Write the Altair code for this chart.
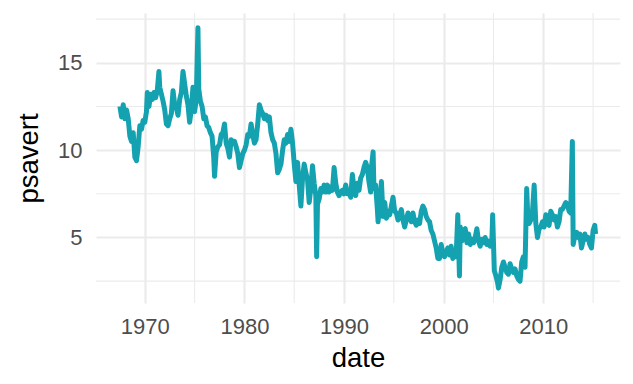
import altair as alt
import pandas as pd

months = [
"1967-07","1967-09","1967-11","1968-01","1968-03","1968-05","1968-07","1968-09","1968-11",
"1969-01","1969-03","1969-05","1969-07","1969-09","1969-11",
"1970-01","1970-03","1970-04","1970-06","1970-08","1970-10","1970-12",
"1971-02","1971-04","1971-06","1971-07","1971-09","1971-11",
"1972-01","1972-03","1972-05","1972-07","1972-09","1972-11",
"1973-01","1973-03","1973-05","1973-07","1973-09","1973-11",
"1974-01","1974-03","1974-05","1974-07","1974-09","1974-11",
"1975-01","1975-03","1975-05","1975-06","1975-08","1975-10","1975-12",
"1976-02","1976-04","1976-06","1976-08","1976-10","1976-12",
"1977-01","1977-03","1977-05","1977-07","1977-09","1977-11",
"1978-01","1978-03","1978-05","1978-07","1978-09","1978-11",
"1979-01","1979-03","1979-05","1979-07","1979-09","1979-11",
"1980-01","1980-03","1980-05","1980-07","1980-09","1980-11",
"1981-01","1981-03","1981-05","1981-07","1981-09","1981-11",
"1982-01","1982-03","1982-05","1982-07","1982-09","1982-11",
"1983-01","1983-03","1983-05","1983-07","1983-09","1983-11",
"1984-01","1984-03","1984-05","1984-07","1984-09","1984-11",
"1985-01","1985-03","1985-05","1985-07","1985-09","1985-11",
"1986-01","1986-03","1986-05","1986-07","1986-09","1986-11",
"1987-01","1987-03","1987-04","1987-05","1987-07","1987-09","1987-11",
"1988-01","1988-03","1988-05","1988-07","1988-09","1988-11",
"1989-01","1989-03","1989-05","1989-07","1989-09","1989-11",
"1990-01","1990-03","1990-05","1990-07","1990-09","1990-11",
"1991-01","1991-03","1991-05","1991-07","1991-09","1991-11",
"1992-01","1992-03","1992-05","1992-07","1992-09","1992-10","1992-12",
"1993-01","1993-03","1993-05","1993-06","1993-08","1993-10","1993-12",
"1994-02","1994-04","1994-06","1994-08","1994-10","1994-12",
"1995-02","1995-04","1995-06","1995-08","1995-10","1995-12",
"1996-02","1996-04","1996-06","1996-08","1996-10","1996-12",
"1997-02","1997-04","1997-06","1997-08","1997-10","1997-12",
"1998-02","1998-04","1998-06","1998-08","1998-10","1998-12",
"1999-02","1999-04","1999-06","1999-08","1999-10","1999-12",
"2000-02","2000-04","2000-06","2000-08","2000-10","2000-12",
"2001-02","2001-04","2001-06","2001-08","2001-09","2001-11",
"2002-01","2002-03","2002-05","2002-07","2002-09","2002-11",
"2003-01","2003-03","2003-05","2003-07","2003-09","2003-11",
"2004-01","2004-03","2004-05","2004-07","2004-09","2004-11","2004-12",
"2005-02","2005-04","2005-06","2005-07","2005-09","2005-11",
"2006-01","2006-03","2006-05","2006-07","2006-09","2006-11",
"2007-01","2007-03","2007-05","2007-07","2007-09","2007-11",
"2008-01","2008-03","2008-05","2008-06","2008-08","2008-10","2008-12",
"2009-02","2009-04","2009-06","2009-08","2009-10","2009-12",
"2010-02","2010-04","2010-06","2010-08","2010-10","2010-12",
"2011-02","2011-04","2011-06","2011-08","2011-10","2011-12",
"2012-02","2012-04","2012-06","2012-08","2012-10","2012-12",
"2013-01","2013-03","2013-05","2013-07","2013-09","2013-11",
"2014-01","2014-03","2014-05","2014-07","2014-09","2014-11",
"2015-01","2015-03","2015-04",
]

psavert = [
12.5,11.9,12.6,11.8,12.3,11.8,10.8,10.5,11.0,
9.6,9.4,10.2,11.4,11.2,11.7,
11.6,12.2,13.3,12.5,13.2,12.9,13.3,
13.0,13.4,14.5,13.6,13.2,12.8,
12.3,11.5,11.4,11.8,12.1,13.4,
12.6,12.4,12.0,12.9,13.3,14.5,
13.8,13.1,12.6,11.6,12.3,13.6,
12.2,12.9,17.0,13.5,12.8,12.5,11.8,
11.9,11.4,11.3,11.0,10.8,9.6,
8.5,9.9,10.2,10.3,10.9,11.0,
11.5,10.4,10.1,9.6,10.6,10.4,
10.5,10.2,9.8,9.0,9.4,9.8,
10.0,10.3,10.9,10.8,11.5,10.9,
10.4,10.6,11.5,12.6,12.3,12.1,
11.8,12.0,11.7,11.9,11.0,10.6,
10.4,9.8,8.7,8.9,9.2,10.0,
10.6,10.4,10.9,10.5,11.2,10.4,
9.2,8.2,9.3,8.0,6.8,8.4,
9.2,8.7,8.3,7.0,7.8,9.1,
8.1,7.4,3.9,6.9,7.2,7.8,7.6,
8.0,7.6,8.0,7.6,7.9,7.7,
9.0,8.1,7.6,7.4,7.6,7.7,
7.5,8.0,7.5,7.6,7.3,8.6,
7.8,7.4,8.1,7.7,8.4,8.6,
9.0,9.3,9.0,8.2,7.6,9.0,9.9,
7.8,8.0,6.7,5.9,7.0,8.2,6.2,
7.0,6.1,6.5,6.3,6.8,7.3,
6.5,6.4,6.0,6.3,6.6,6.0,
5.6,6.0,6.4,6.1,5.9,6.4,
5.9,5.7,6.0,5.8,6.5,6.8,
6.6,6.2,6.0,5.9,5.4,5.2,
4.8,4.4,3.8,3.8,4.6,4.1,
3.9,4.2,4.4,4.0,4.5,3.8,
4.2,3.9,6.3,2.8,5.6,4.8,
5.4,5.5,4.7,5.2,4.6,4.9,
4.7,5.0,5.5,4.8,4.5,4.9,
4.7,5.0,4.6,4.8,4.5,4.7,6.3,
3.1,2.8,2.4,2.1,2.6,3.3,
3.6,3.3,3.0,2.9,3.5,3.2,
3.0,3.2,2.8,2.6,2.5,3.6,
3.9,3.3,7.8,6.6,5.8,6.0,6.5,
8.0,5.8,5.0,5.5,5.6,5.9,
5.6,6.3,5.8,5.7,6.5,6.3,
6.0,6.2,5.6,5.9,6.6,6.6,
6.8,7.0,6.9,6.5,6.4,10.5,
4.6,5.1,5.3,5.0,5.2,4.4,
4.8,5.2,4.9,5.0,4.6,4.4,
5.4,5.7,5.2,
]

x_major = [1970, 1980, 1990, 2000, 2010]
x_minor = [1975, 1985, 1995, 2005, 2015]
y_major = [5, 10, 15]
y_minor = [2.5, 7.5, 12.5, 17.5]

def to_year(s):
    y, m = s.split("-")
    return int(y) + (int(m) - 1) / 12.0

df = pd.DataFrame({"date": [to_year(m) for m in months], "psavert": psavert})

W, H = 524, 290
xs = alt.Scale(domain=[1965.1, 2017.7], nice=False, zero=False)
ys = alt.Scale(domain=[1.25, 17.85], nice=False, zero=False)
FONT = "Liberation Sans"
GRID = "#ebebeb"

vminor = alt.Chart(pd.DataFrame({"v": x_minor})).mark_rule(color=GRID, strokeWidth=1.1).encode(
    x=alt.X("v:Q", scale=xs), y=alt.value(0), y2=alt.value(H))
hminor = alt.Chart(pd.DataFrame({"v": y_minor})).mark_rule(color=GRID, strokeWidth=1.1).encode(
    y=alt.Y("v:Q", scale=ys), x=alt.value(0), x2=alt.value(W))

line = alt.Chart(df).mark_line(color="#14A2B1", strokeWidth=5, strokeJoin="round").encode(
    x=alt.X("date:Q", scale=xs, title="date",
            axis=alt.Axis(values=x_major, format="d", labelPadding=13, titlePadding=7)),
    y=alt.Y("psavert:Q", scale=ys, title="psavert",
            axis=alt.Axis(values=y_major, labelPadding=14, titlePadding=14)),
)

chart = alt.layer(vminor, hminor, line).properties(
    width=W, height=H,
    autosize=alt.AutoSizeParams(type="none"),
    padding={"left": 88, "top": 5, "right": 5, "bottom": 73},
    background="white",
).configure_view(stroke=None).configure_axis(
    domain=False, ticks=False, grid=True, gridColor=GRID, gridWidth=2.2,
    labelFont=FONT, labelFontSize=22, labelColor="#4d4d4d",
    titleFont=FONT, titleFontSize=27.5, titleColor="black", titleFontWeight="normal",
)

chart.save("out.html", embed_options={"renderer": "svg", "actions": False})
